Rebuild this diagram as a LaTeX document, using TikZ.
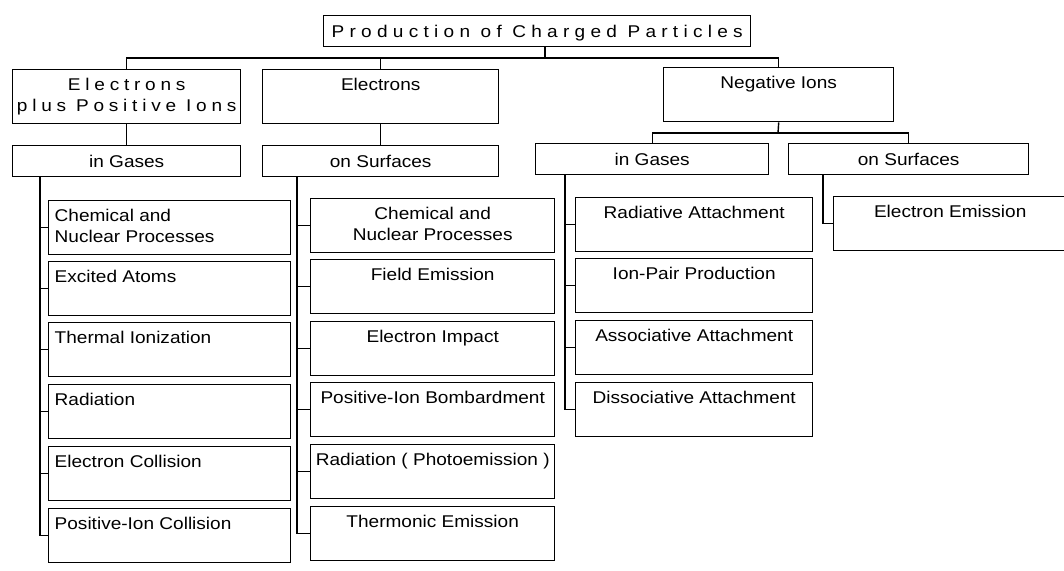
\documentclass[tikz,border=0pt]{standalone}
\usepackage{fontspec}
\newfontfamily\df[FakeStretch=1.12]{Liberation Sans}
\newfontfamily\dfs[FakeStretch=1.12,LetterSpace=31]{Liberation Sans}
\newfontfamily\dfe[FakeStretch=1.12,LetterSpace=28]{Liberation Sans}
\newcommand\cellbox[5]{\parbox[c][#2pt][t]{#1pt}{#3\vspace*{#4pt}\rule{0pt}{14pt}#5\par}}
\tikzset{
  cell/.style={draw, line width=1.4pt, inner sep=0pt, anchor=north west},
  link/.style={draw, line width=1.4pt},
}
\begin{document}
\begin{tikzpicture}[x=1pt,y=-1pt,font=\df\fontsize{17}{21}\selectfont]
\useasboundingbox (0,0) rectangle (1064,570);
\clip (0,0) rectangle (1064,570);
% top
\node[cell] (top) at (323,15) {\cellbox{427}{31}{\centering\dfs}{8}{Production of Charged Particles}};
% level 1
\node[cell] (eppi) at (12,69) {\cellbox{228}{54}{\centering\dfe}{7}{Electrons\\plus Positive Ions}};
\node[cell] (elec) at (262,69) {\cellbox{236}{54}{\centering}{7}{Electrons}};
\node[cell] (neg) at (663,67) {\cellbox{230}{54}{\centering}{7}{Negative Ions}};
% level 2
\node[cell] (gasL) at (12,145) {\cellbox{228}{31}{\centering}{8}{in Gases}};
\node[cell] (surfM) at (262,145) {\cellbox{236}{31}{\centering}{8}{on Surfaces}};
\node[cell] (gasR) at (535,143) {\cellbox{233}{31}{\centering}{8}{in Gases}};
\node[cell] (surfR) at (788,143) {\cellbox{240}{31}{\centering}{8}{on Surfaces}};
% left column
\node[cell] (l1) at (48,200) {\cellbox{242}{54}{\raggedright\leftskip=6pt}{7}{Chemical and\\Nuclear Processes}};
\node[cell] (l2) at (48,261) {\cellbox{242}{54}{\raggedright\leftskip=6pt}{7}{Excited Atoms}};
\node[cell] (l3) at (48,322) {\cellbox{242}{54}{\raggedright\leftskip=6pt}{7}{Thermal Ionization}};
\node[cell] (l4) at (48,384) {\cellbox{242}{54}{\raggedright\leftskip=6pt}{7}{Radiation}};
\node[cell] (l5) at (48,446) {\cellbox{242}{54}{\raggedright\leftskip=6pt}{7}{Electron Collision}};
\node[cell] (l6) at (48,508) {\cellbox{242}{54}{\raggedright\leftskip=6pt}{7}{Positive-Ion Collision}};
% middle column
\node[cell] (m1) at (310,198) {\cellbox{244}{54}{\centering}{7}{Chemical and\\Nuclear Processes}};
\node[cell] (m2) at (310,259) {\cellbox{244}{54}{\centering}{7}{Field Emission}};
\node[cell] (m3) at (310,321) {\cellbox{244}{54}{\centering}{7}{Electron Impact}};
\node[cell] (m4) at (310,382) {\cellbox{244}{54}{\centering}{7}{Positive-Ion Bombardment}};
\node[cell] (m5) at (310,444) {\cellbox{244}{54}{\centering}{7}{Radiation ( Photoemission )}};
\node[cell] (m6) at (310,506) {\cellbox{244}{54}{\centering}{7}{Thermonic Emission}};
% right column
\node[cell] (r1) at (575,197) {\cellbox{237}{54}{\centering}{7}{Radiative Attachment}};
\node[cell] (r2) at (575,258) {\cellbox{237}{54}{\centering}{7}{Ion-Pair Production}};
\node[cell] (r3) at (575,320) {\cellbox{237}{54}{\centering}{7}{Associative Attachment}};
\node[cell] (r4) at (575,382) {\cellbox{237}{54}{\centering}{7}{Dissociative Attachment}};
% far right
\node[cell] (e1) at (833,196) {\cellbox{233}{54}{\centering}{7}{Electron Emission}};
% top bus
\coordinate (busT) at (545,58);
\draw[link] (top.south -| busT) -- (busT);
\draw[link] (eppi.north) -- (eppi.north |- busT) -- (neg.north |- busT) -- (neg.north);
\draw[link] (elec.north) -- (elec.north |- busT);
% level1 to level2
\draw[link] (eppi.south) -- (gasL.north);
\draw[link] (elec.south) -- (surfM.north);
\coordinate (busN) at (778,133);
\draw[link] (neg.south) -- (busN);
\draw[link] (gasR.north) -- (gasR.north |- busN) -- (surfR.north |- busN) -- (surfR.north);
% spines
\coordinate (sL) at (40,176);
\coordinate (sM) at (297,176);
\coordinate (sR) at (565,174);
\coordinate (sS) at (823,174);
\draw[link] (sL) |- (l6.west);
\foreach \n in {l1,l2,l3,l4,l5} \draw[link] (sL |- \n.west) -- (\n.west);
\draw[link] (sM) |- (m6.west);
\foreach \n in {m1,m2,m3,m4,m5} \draw[link] (sM |- \n.west) -- (\n.west);
\draw[link] (sR) |- (r4.west);
\foreach \n in {r1,r2,r3} \draw[link] (sR |- \n.west) -- (\n.west);
\draw[link] (sS) |- (e1.west);
\end{tikzpicture}
\end{document}
